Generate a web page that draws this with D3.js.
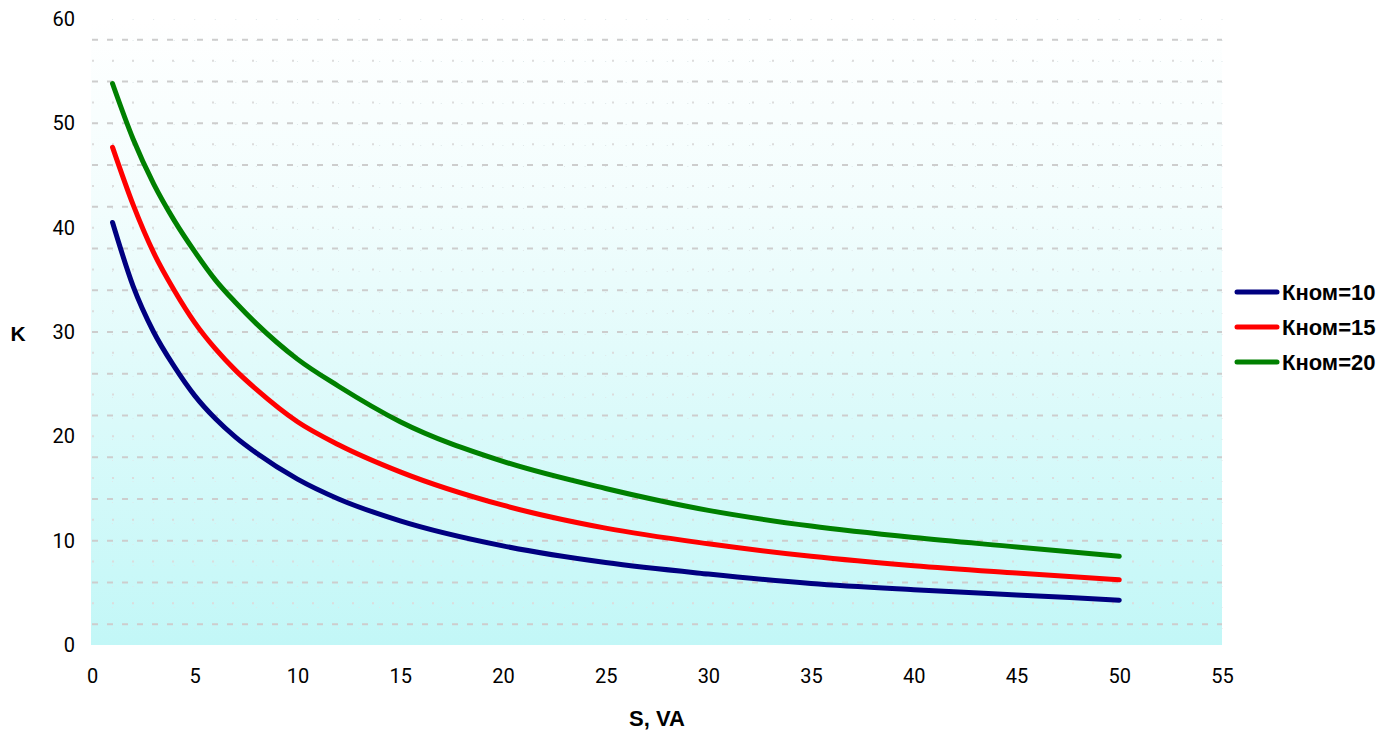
<!DOCTYPE html>
<html>
<head>
<meta charset="utf-8">
<script src="https://cdn.jsdelivr.net/npm/d3@7"></script>
<style>
  body { margin: 0; background: #fff; }
</style>
</head>
<body>
<svg id="root" width="1400" height="734"></svg>
<script>
// data
const sValues = [1, 2, 3, 4, 5, 6, 7, 8, 10, 12, 15, 20, 25, 30, 35, 40, 45, 50];
const k10 = [40.5, 34.4, 30.0, 26.7, 23.9, 21.7, 19.9, 18.4, 15.9, 14.0, 11.9, 9.5, 7.9, 6.8, 5.9, 5.3, 4.8, 4.3];
const k15 = [47.7, 42.2, 37.6, 34.0, 30.9, 28.4, 26.3, 24.5, 21.4, 19.2, 16.6, 13.4, 11.2, 9.7, 8.5, 7.6, 6.9, 6.25];
const k20 = [53.8, 48.5, 44.2, 40.7, 37.7, 35.0, 32.8, 30.8, 27.4, 24.8, 21.4, 17.6, 15.0, 12.9, 11.4, 10.3, 9.4, 8.5];
const seriesNames = ['Кном=10', 'Кном=15', 'Кном=20'];
const seriesColors = ['#000080', '#ff0000', '#008000'];
const xTicks = [0, 5, 10, 15, 20, 25, 30, 35, 40, 45, 50, 55];
const yTicks = [0, 10, 20, 30, 40, 50, 60];

const root = d3.select('#root');
const plotLeft = 92, plotRight = 1222, plotTop = 19, plotBottom = 645;
const tickFont = 'Roboto, "Liberation Sans", Arial, sans-serif';
const boldFont = '"Liberation Sans", Arial, sans-serif';

const x = d3.scaleLinear().domain([0, 55]).range([plotLeft, plotRight]);
const y = d3.scaleLinear().domain([0, 60]).range([plotBottom, plotTop]);

// plot background gradient
const defs = root.append('defs');
const grad = defs.append('linearGradient')
    .attr('id', 'bg').attr('x1', 0).attr('y1', 0).attr('x2', 0).attr('y2', 1);
grad.append('stop').attr('offset', '0%').attr('stop-color', '#ffffff');
grad.append('stop').attr('offset', '30%').attr('stop-color', '#f2fdfd');
grad.append('stop').attr('offset', '100%').attr('stop-color', '#c2f7f7');

root.append('rect')
    .attr('x', plotLeft - 1).attr('y', plotTop)
    .attr('width', plotRight - plotLeft + 1).attr('height', plotBottom - plotTop)
    .attr('fill', 'url(#bg)');

// grid
const grid = root.append('g');
grid.selectAll('line.v')
    .data(d3.range(1, 56))
    .enter().append('line')
    .attr('class', 'v')
    .attr('x1', d => x(d)).attr('x2', d => x(d))
    .attr('y1', plotTop).attr('y2', plotBottom)
    .attr('stroke', '#dfe8ea')
    .attr('stroke-width', 1)
    .attr('stroke-dasharray', '1,20');
grid.selectAll('line.h')
    .data(d3.range(2, 60, 2))
    .enter().append('line')
    .attr('class', 'h')
    .attr('x1', plotLeft).attr('x2', plotRight)
    .attr('y1', d => y(d)).attr('y2', d => y(d))
    .attr('stroke', d => d % 4 === 2 ? '#cdcdcd' : '#dcdcdc')
    .attr('stroke-width', 2)
    .attr('stroke-dasharray', d => d % 4 === 2 ? '6,9' : '2,18');

// axes
const xAxis = root.append('g')
    .attr('transform', `translate(0,${plotBottom})`)
    .call(d3.axisBottom(x).tickValues(xTicks).tickSize(0).tickPadding(24));
const yAxis = root.append('g')
    .attr('transform', `translate(${plotLeft},0)`)
    .call(d3.axisLeft(y).tickValues(yTicks).tickSize(0).tickPadding(17));
[xAxis, yAxis].forEach(a => {
    a.select('.domain').remove();
    a.selectAll('text')
        .style('font-family', tickFont)
        .style('font-size', '20px')
        .attr('fill', '#000');
});

// curves
const line = d3.line()
    .x(d => x(d.s))
    .y(d => y(d.k))
    .curve(d3.curveMonotoneX);

const series = [k10, k15, k20].map((vals, i) => ({
    name: seriesNames[i],
    color: seriesColors[i],
    points: sValues.map((s, j) => ({ s: s, k: vals[j] }))
}));

root.append('g').selectAll('path')
    .data(series)
    .enter().append('path')
    .attr('d', d => line(d.points))
    .attr('fill', 'none')
    .attr('stroke', d => d.color)
    .attr('stroke-width', 5)
    .attr('stroke-linecap', 'round')
    .attr('stroke-linejoin', 'round');

// axis titles
root.append('text')
    .attr('x', 657).attr('y', 726)
    .attr('text-anchor', 'middle')
    .style('font-family', boldFont)
    .style('font-size', '22px').style('font-weight', 'bold')
    .text('S, VA');
root.append('text')
    .attr('x', 18).attr('y', 341)
    .attr('text-anchor', 'middle')
    .style('font-family', boldFont)
    .style('font-size', '21px').style('font-weight', 'bold')
    .text('K');

// legend
const legend = root.append('g');
const items = legend.selectAll('g')
    .data(series)
    .enter().append('g')
    .attr('transform', (d, i) => `translate(1237,${292 + i * 35})`);
items.append('line')
    .attr('x1', 0).attr('x2', 40)
    .attr('stroke', d => d.color)
    .attr('stroke-width', 5)
    .attr('stroke-linecap', 'round');
items.append('text')
    .attr('x', 45).attr('y', 8)
    .style('font-family', boldFont)
    .style('font-size', '22px').style('font-weight', 'bold')
    .text(d => d.name);
</script>
</body>
</html>
